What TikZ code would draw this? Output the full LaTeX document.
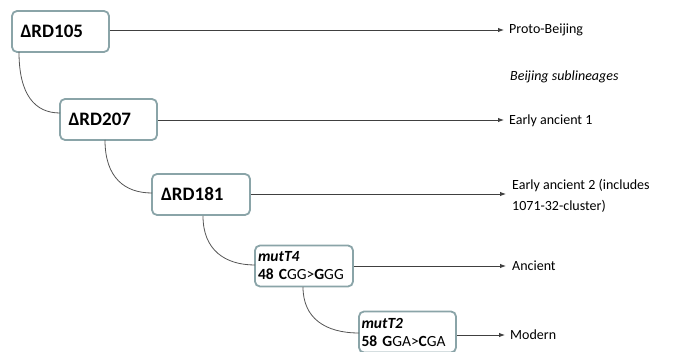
\documentclass[tikz,border=0pt]{standalone}
\usepackage{fontspec}
\setmainfont{Carlito}
\usetikzlibrary{arrows.meta}
\definecolor{boxc}{HTML}{8AA4A8}
\definecolor{linec}{HTML}{404040}
\definecolor{curvec}{HTML}{555555}
\begin{document}
\begin{tikzpicture}[x=1pt,y=-1pt,
  rdbox/.style={draw=boxc,line width=1.8pt,rounded corners=5pt,fill=white,
    inner xsep=8pt,inner ysep=0pt,minimum height=41pt,text width=80pt,align=left,
    font=\fontsize{19}{21}\selectfont\bfseries},
  mutbox/.style={draw=boxc,line width=1.8pt,rounded corners=5pt,fill=white,
    inner xsep=2.5pt,inner ysep=0pt,minimum height=41pt,text width=92pt,align=left,
    font=\fontsize{15.5}{18}\selectfont},
  lab/.style={anchor=west,inner sep=0pt,font=\fontsize{14}{21}\selectfont,align=left},
  arr/.style={draw=linec,line width=0.9pt,-{Latex[length=6pt,width=4.5pt]}},
  br/.style={draw=curvec,line width=0.8pt}]
\useasboundingbox (0,0) rectangle (680,352);
% boxes
\node[rdbox,minimum width=97pt] (a) at (60.5,31.5) {ΔRD105};
\node[rdbox,minimum width=97pt] (b) at (108.5,119.5) {ΔRD207};
\node[rdbox,minimum width=98pt] (c) at (201,194.5) {ΔRD181};
\node[mutbox,minimum width=98pt] (d) at (304,266) {\textbf{\textit{mutT4}}\\\mbox{\textbf{48 C}GG>\textbf{G}GG}};
\node[mutbox,minimum width=97pt] (e) at (407.5,332) {\textbf{\textit{mutT2}}\\\mbox{\textbf{58 G}GA>\textbf{C}GA}};
% labels
\node[lab] (la) at (509,30) {Proto-Beijing};
\node[lab,font=\fontsize{14}{21}\selectfont\itshape] (ls) at (510,77) {Beijing sublineages};
\node[lab] (lb) at (509,121) {Early ancient 1};
\node[lab] (lc) at (512,195.5) {Early ancient 2 (includes\\1071-32-cluster)};
\node[lab] (ld) at (512,266) {Ancient};
\node[lab] (le) at (510,335) {Modern};
% arrows
\coordinate (ta) at (504,30);
\coordinate (tb) at (504,120);
\coordinate (tc) at (506,194);
\coordinate (td) at (506,266);
\coordinate (te) at (505,335);
\draw[arr] (a.east |- ta) -- (ta);
\draw[arr] (b.east |- tb) -- (tb);
\draw[arr] (c.east |- tc) -- (tc);
\draw[arr] (d.east |- td) -- (td);
\draw[arr] (e.east |- te) -- (te);
% branch curves
\coordinate (a0) at (19,52);
\coordinate (b1) at (60,113);
\coordinate (b0) at (105,140);
\coordinate (c1) at (152,193);
\coordinate (c0) at (203,216);
\coordinate (d1) at (255,265);
\coordinate (d0) at (303,287);
\coordinate (e1) at (359,333);
\draw[br] (a0) .. controls (19,95) and (35,113) .. (b1);
\draw[br] (b0) .. controls (105,178) and (125,193) .. (c1);
\draw[br] (c0) .. controls (203,250) and (225,265) .. (d1);
\draw[br] (d0) .. controls (303,318) and (325,333) .. (e1);
\end{tikzpicture}
\end{document}
